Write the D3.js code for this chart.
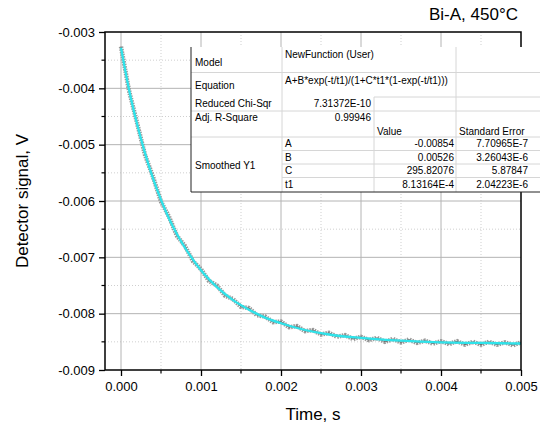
<!DOCTYPE html>
<html><head><meta charset="utf-8">
<script src="https://cdn.jsdelivr.net/npm/d3@7"></script>
<style>
body{margin:0;background:#fff}
svg{display:block;font-family:"Liberation Sans",Arial,sans-serif}
</style>
</head><body>
<svg id="chart" width="540" height="425"></svg>
<script>
// ---- data ----
const fitTime = [0, 0.0001, 0.0002, 0.0003, 0.0004, 0.0005, 0.0006, 0.0007, 0.0008, 0.0009, 0.0010,
  0.0012, 0.0014, 0.0016, 0.0018, 0.0020, 0.0023, 0.0026, 0.0030, 0.0035, 0.0040, 0.0045, 0.0050];
const fitSignal = [-0.00328, -0.00402, -0.00463, -0.00515, -0.00560, -0.00598, -0.00631, -0.00659, -0.00683, -0.00704, -0.00723,
  -0.00753, -0.00776, -0.00793, -0.00807, -0.00817, -0.00829, -0.00837, -0.00843, -0.00848, -0.00851, -0.00852, -0.00853];

const dataTime = [0, 0.0001, 0.0002, 0.0003, 0.0004, 0.0005, 0.0006, 0.0007, 0.0008, 0.0009,
  0.0010, 0.0011, 0.0012, 0.0013, 0.0014, 0.0015, 0.0016, 0.0017, 0.0018, 0.0019,
  0.0020, 0.0021, 0.0022, 0.0023, 0.0024, 0.0025, 0.0026, 0.0027, 0.0028, 0.0029,
  0.0030, 0.0031, 0.0032, 0.0033, 0.0034, 0.0035, 0.0036, 0.0037, 0.0038, 0.0039,
  0.0040, 0.0041, 0.0042, 0.0043, 0.0044, 0.0045, 0.0046, 0.0047, 0.0048, 0.0049, 0.0050];
const dataSignal = [-0.00326, -0.00404, -0.00461, -0.00518, -0.00557, -0.00601, -0.00628, -0.00662, -0.00680, -0.00707,
  -0.00721, -0.00742, -0.00750, -0.00768, -0.00774, -0.00788, -0.00790, -0.00803, -0.00805, -0.00815,
  -0.00814, -0.00824, -0.00822, -0.00831, -0.00829, -0.00837, -0.00834, -0.00841, -0.00838, -0.00845,
  -0.00841, -0.00847, -0.00843, -0.00850, -0.00845, -0.00851, -0.00846, -0.00852, -0.00848, -0.00853,
  -0.00849, -0.00854, -0.00849, -0.00855, -0.00850, -0.00855, -0.00850, -0.00855, -0.00851, -0.00856, -0.00851];

const xTicks = [0, 0.001, 0.002, 0.003, 0.004, 0.005];
const xTickLabels = ["0.000", "0.001", "0.002", "0.003", "0.004", "0.005"];
const xMinorTicks = [0.0005, 0.0015, 0.0025, 0.0035, 0.0045];
const yTicks = [-0.003, -0.004, -0.005, -0.006, -0.007, -0.008, -0.009];
const yTickLabels = ["-0.003", "-0.004", "-0.005", "-0.006", "-0.007", "-0.008", "-0.009"];
const yMinorTicks = [-0.0035, -0.0045, -0.0055, -0.0065, -0.0075, -0.0085];

const titleText = "Bi-A, 450°C";
const xTitle = "Time, s";
const yTitle = "Detector signal, V";

const modelName = "NewFunction (User)";
const equationText = "A+B*exp(-t/t1)/(1+C*t1*(1-exp(-t/t1)))";
const chiSqr = "7.31372E-10";
const adjR2 = "0.99946";
const seriesName = "Smoothed Y1";
const paramNames = ["A", "B", "C", "t1"];
const paramValues = ["-0.00854", "0.00526", "295.82076", "8.13164E-4"];
const paramErrors = ["7.70965E-7", "3.26043E-6", "5.87847", "2.04223E-6"];

// ---- layout ----
const L = 105, R = 521, T = 32, B = 370;
const svg = d3.select("#chart");
const x = d3.scaleLinear().domain([-0.0002, 0.005]).range([L, R]);
const y = d3.scaleLinear().domain([-0.009, -0.003]).range([B, T]);

// grid
const grid = svg.append("g");
grid.selectAll(".vmin").data(xMinorTicks).enter().append("line")
  .attr("x1", d => x(d)).attr("x2", d => x(d)).attr("y1", T).attr("y2", B)
  .attr("stroke", "#cfcfcf").attr("stroke-dasharray", "1,2");
grid.selectAll(".hmin").data(yMinorTicks).enter().append("line")
  .attr("x1", L).attr("x2", R).attr("y1", d => y(d)).attr("y2", d => y(d))
  .attr("stroke", "#cfcfcf").attr("stroke-dasharray", "1,2");
grid.selectAll(".vmaj").data(xTicks.filter(d => d < 0.005)).enter().append("line")
  .attr("x1", d => x(d)).attr("x2", d => x(d)).attr("y1", T).attr("y2", B)
  .attr("stroke", "#b4b4b4").attr("stroke-width", 1);
grid.selectAll(".hmaj").data(yTicks.filter(d => d > -0.009 && d < -0.003)).enter().append("line")
  .attr("x1", L).attr("x2", R).attr("y1", d => y(d)).attr("y2", d => y(d))
  .attr("stroke", "#b4b4b4").attr("stroke-width", 1);

// clip
svg.append("clipPath").attr("id", "clip").append("rect")
  .attr("x", L).attr("y", T).attr("width", R - L).attr("height", B - T);
const plot = svg.append("g").attr("clip-path", "url(#clip)");

const dataLine = d3.line().x((d, i) => x(dataTime[i])).y(d => y(d));
plot.append("path").datum(dataSignal).attr("d", dataLine)
  .attr("fill", "none").attr("stroke", "#9a9a9a").attr("stroke-width", 4.5)
  .attr("stroke-dasharray", "1.5,1");
plot.append("path").datum(dataSignal).attr("d", dataLine)
  .attr("fill", "none").attr("stroke", "#6e6e6e").attr("stroke-width", 1);

const fitLine = d3.line().x((d, i) => x(fitTime[i])).y(d => y(d)).curve(d3.curveMonotoneX);
plot.append("path").datum(fitSignal).attr("d", fitLine)
  .attr("fill", "none").attr("stroke", "#2fe3ea").attr("stroke-width", 2.3);

// frame
svg.append("rect").attr("x", L).attr("y", T).attr("width", R - L).attr("height", B - T)
  .attr("fill", "none").attr("stroke", "#000").attr("stroke-width", 1.5);

// axes
const xAxis = d3.axisBottom(x).tickValues(xTicks).tickFormat((d, i) => xTickLabels[i]).tickSize(6).tickPadding(6);
const gx = svg.append("g").attr("transform", `translate(0,${B})`).call(xAxis);
gx.select(".domain").remove();
gx.selectAll("line").attr("stroke", "#000").attr("stroke-width", 1.3);
gx.selectAll("text").attr("font-size", 13).attr("fill", "#000").attr("font-family", "Liberation Sans, Arial, sans-serif");
svg.append("g").selectAll("line").data(xMinorTicks).enter().append("line")
  .attr("x1", d => x(d)).attr("x2", d => x(d)).attr("y1", B).attr("y2", B + 3.5)
  .attr("stroke", "#000").attr("stroke-width", 1.2);

const yAxis = d3.axisLeft(y).tickValues(yTicks).tickFormat((d, i) => yTickLabels[i]).tickSize(6).tickPadding(4);
const gy = svg.append("g").attr("transform", `translate(${L},0)`).call(yAxis);
gy.select(".domain").remove();
gy.selectAll("line").attr("stroke", "#000").attr("stroke-width", 1.3);
gy.selectAll("text").attr("font-size", 13).attr("fill", "#000").attr("font-family", "Liberation Sans, Arial, sans-serif");
svg.append("g").selectAll("line").data(yMinorTicks).enter().append("line")
  .attr("x1", L - 3.5).attr("x2", L).attr("y1", d => y(d)).attr("y2", d => y(d))
  .attr("stroke", "#000").attr("stroke-width", 1.2);

// titles
svg.append("text").attr("x", (L + R) / 2).attr("y", 420).attr("text-anchor", "middle")
  .attr("font-size", 17).text(xTitle);
svg.append("text").attr("transform", `translate(28,${(T + B) / 2}) rotate(-90)`)
  .attr("text-anchor", "middle").attr("font-size", 17).text(yTitle);
svg.append("text").attr("x", 518).attr("y", 20).attr("text-anchor", "end")
  .attr("font-size", 17).text(titleText);

// ---- fit table ----
const tb = svg.append("g").attr("font-size", 10).attr("fill", "#000");
const c0 = 191, c1 = 282, c2 = 374, c3 = 456, c4 = 531;
const tTop = 47, tBot = 192;
const rowEdges = [137, 150.5, 164, 177.5];
tb.append("rect").attr("x", c0).attr("y", tTop).attr("width", c4 - c0 + 10).attr("height", tBot - tTop).attr("fill", "#fff");
const light = "#d6d6d6";
function hl(y0, xa, xb) { tb.append("line").attr("x1", xa).attr("x2", xb).attr("y1", y0).attr("y2", y0).attr("stroke", light); }
function vl(x0, ya, yb) { tb.append("line").attr("x1", x0).attr("x2", x0).attr("y1", ya).attr("y2", yb).attr("stroke", light); }
hl(72.5, c0, c4 + 10);
hl(111, c0, c4 + 10);
hl(97, c2, c4 + 10);
hl(rowEdges[0], c0, c4 + 10);
rowEdges.slice(1).forEach(e => hl(e, c1, c4 + 10));
vl(c1, tTop, tBot);
vl(c2, 97, tBot);
vl(c3, tTop, tBot);
tb.append("line").attr("x1", c0).attr("x2", c0).attr("y1", tTop).attr("y2", tBot).attr("stroke", "#222").attr("stroke-width", 1);
tb.append("line").attr("x1", c0).attr("x2", c4 + 10).attr("y1", tBot).attr("y2", tBot).attr("stroke", "#222").attr("stroke-width", 1);

function txt(s, xx, yy, anchor) { tb.append("text").attr("x", xx).attr("y", yy).attr("text-anchor", anchor || "start").text(s); }
txt("Model", c0 + 4, 65.5);
txt(modelName, c1 + 3, 57.5);
txt("Equation", c0 + 4, 88.5);
txt(equationText, c1 + 3, 83.5);
txt("Reduced Chi-Sqr", c0 + 4, 107);
txt(chiSqr, c2 - 3, 107, "end");
txt("Adj. R-Square", c0 + 4, 121);
txt(adjR2, c2 - 3, 120.5, "end");
txt("Value", c2 + 3, 134.5);
txt("Standard Error", c3 + 3, 134.5);
txt(seriesName, c0 + 4, 168.5);
paramNames.forEach((p, i) => {
  const by = rowEdges[i] + 10;
  txt(p, c1 + 3, by);
  txt(paramValues[i], c3 - 2, by, "end");
  txt(paramErrors[i], c4 - 3, by, "end");
});
</script>
</body></html>
